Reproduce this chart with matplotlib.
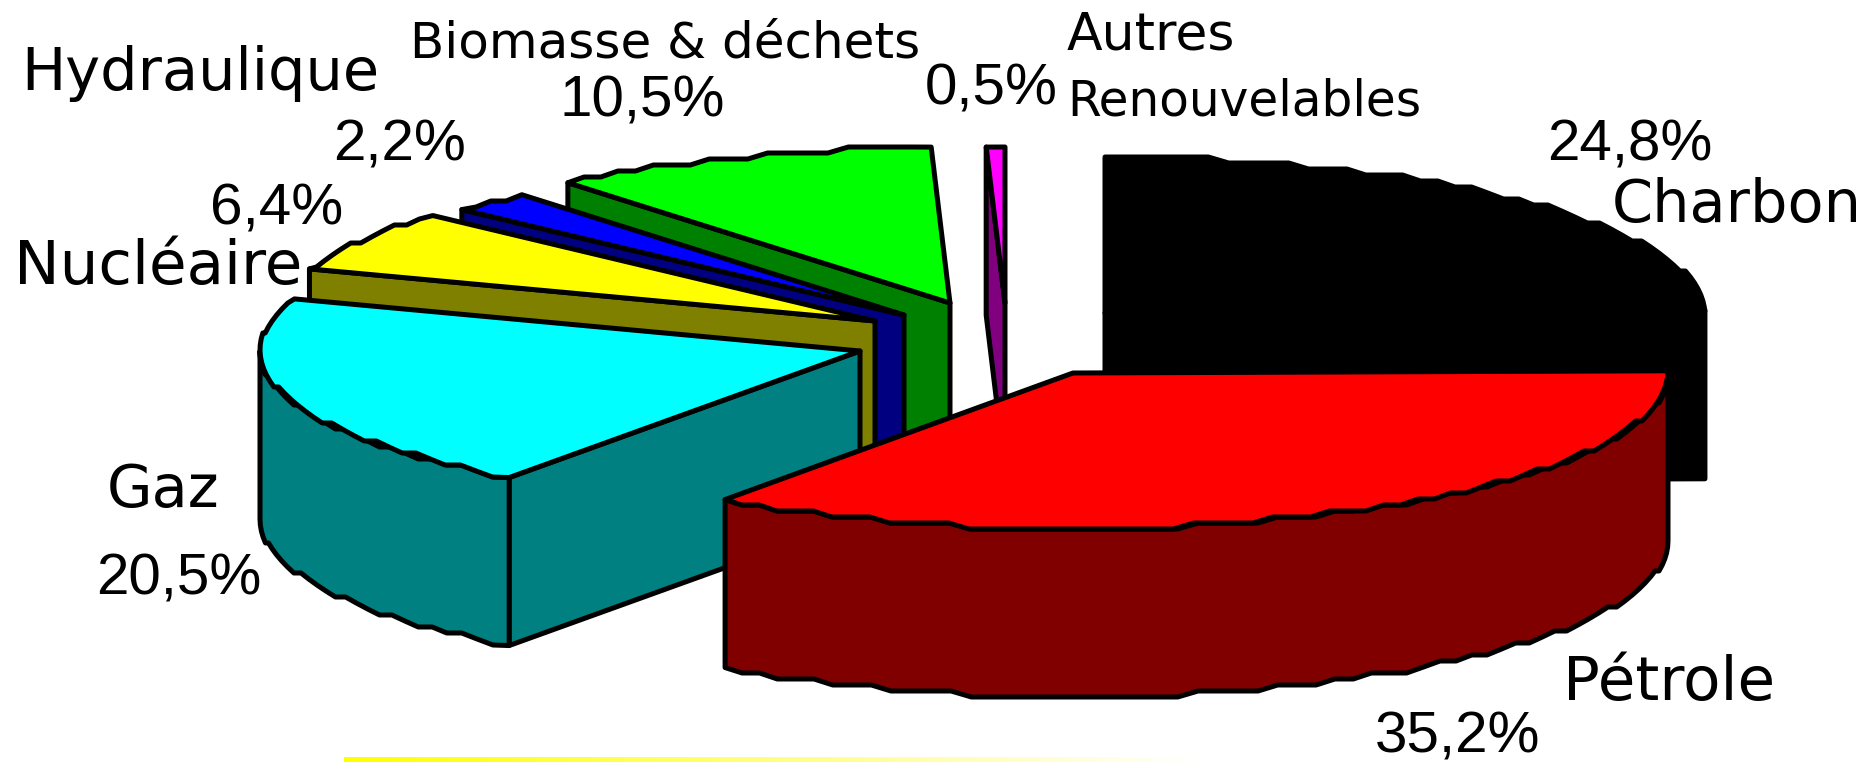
#!/usr/bin/env python3
import numpy as np
import matplotlib
matplotlib.use("Agg")
import matplotlib.pyplot as plt
from matplotlib.colors import LinearSegmentedColormap

# --- Data ---
categories = ["Charbon", "Pétrole", "Gaz", "Nucléaire", "Hydraulique", "Biomasse & déchets", "Autres\nRenouvelables"]
values = [24.8, 35.2, 20.5, 6.4, 2.2, 10.5, 0.5]
pct_labels = ["24,8%", "35,2%", "20,5%", "6,4%", "2,2%", "10,5%", "0,5%"]

# --- Styles / layout (pixels of the 1872x762 picture) ---
top_colors = ["#000000", "#FF0000", "#00FFFF", "#FFFF00", "#0000FF", "#00FF00", "#FF00FF"]
side_colors = ["#000000", "#800000", "#008080", "#808000", "#000080", "#008000", "#800080"]
apex_x = [1105, 1073, 860, 875, 904, 950, 1005]
apex_y = [313, 373, 351, 321, 315, 303, 303]
radius_x = [600, 595, 600, 600, 600, 600, 600]
RY, DEPTH = 156, 168
STEP = 6      # the arcs of the reference are faceted
LW = 3.6

cat_pos = [(1612, 222, 42.5), (1563, 700, 44), (107, 507, 42.5), (14, 284, 44), (21, 90, 42.5), (410, 58, 36), (1067, 115, 35)]
pct_pos = [(1547, 160), (1375, 752), (96, 595), (210, 224), (333, 160), (559, 117), (925, 105)]

fig = plt.figure(figsize=(18.72, 7.62), dpi=100)
ax = fig.add_axes([0, 0, 1, 1])
ax.set_xlim(0, 1872)
ax.set_ylim(762, 0)
ax.axis("off")


def rim(theta, rx):
    """Offset from the apex of a rim point, angle clockwise from the top (deg)."""
    t = np.radians(theta)
    return rx * np.sin(t), -RY * np.cos(t)


def faceted_arc(a0, a1, rx):
    th = np.linspace(a0, a1, max(int(abs(a1 - a0) / 2) + 2, 2))
    x, y = rim(th, rx)
    ys = np.round(y / STEP) * STEP
    ys[[0, -1]] = y[[0, -1]]
    return x, ys


def face(xs, ys, color, z):
    ax.fill(xs, ys, facecolor=color, edgecolor="black", lw=LW, joinstyle="round", zorder=z)


edges = np.concatenate([[0], np.cumsum(values)]) / np.sum(values) * 360

# back slices first, Pétrole last
order = [0, 6, 5, 4, 3, 2, 1]
for z, i in enumerate(order):
    a0, a1 = edges[i], edges[i + 1]
    cx, cy, r = apex_x[i], apex_y[i], radius_x[i]
    base = 10 + z * 4

    # cut faces that look towards the viewer
    for ang, visible in ((a0, np.sin(np.radians(a0)) < 0), (a1, np.sin(np.radians(a1)) > 0)):
        if visible:
            rx, ry = rim(ang, r)
            face([cx, cx + rx, cx + rx, cx], [cy, cy + ry, cy + ry + DEPTH, cy + DEPTH], side_colors[i], base)

    # outer wall: only the front half of the rim
    lo, hi = max(a0, 90), min(a1, 270)
    if hi > lo:
        xs, ys = faceted_arc(lo, hi, r)
        face(np.r_[cx + xs, cx + xs[::-1]], np.r_[cy + ys, cy + ys[::-1] + DEPTH], side_colors[i], base + 1)

    # top face
    xs, ys = faceted_arc(a0, a1, r)
    face(np.r_[cx, cx + xs], np.r_[cy, cy + ys], top_colors[i], base + 2)

# --- Labels ---
for name, (x, y, size) in zip(categories, cat_pos):
    if "\n" in name:
        first, second = name.split("\n")
        ax.text(x, y - 66, first, fontsize=size + 2.5, family="DejaVu Sans", va="baseline", ha="left", zorder=50)
        ax.text(x, y, second, fontsize=size, family="DejaVu Sans", va="baseline", ha="left", zorder=50)
    else:
        ax.text(x, y, name, fontsize=size, family="DejaVu Sans", va="baseline", ha="left", zorder=50)

for lab, (x, y) in zip(pct_labels, pct_pos):
    ax.text(x, y, lab, fontsize=42, family="Liberation Sans", va="baseline", ha="left", zorder=50)

# yellow rule fading out under the chart
cmap = LinearSegmentedColormap.from_list("fade", ["#FFFF00", "#FFFFFF"])
ax.imshow(np.linspace(0, 1, 256)[None, :], extent=(344, 1200, 762, 757), cmap=cmap, aspect="auto", zorder=1)
ax.set_xlim(0, 1872)
ax.set_ylim(762, 0)

fig.savefig("out.png", dpi=100)
plt.close(fig)
